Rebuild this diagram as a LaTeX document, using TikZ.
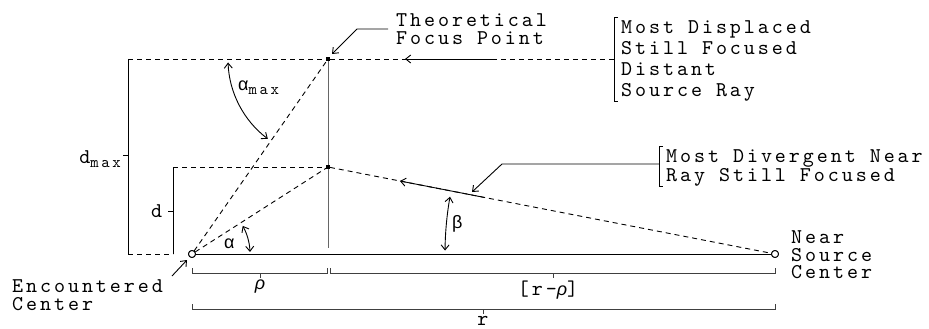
\documentclass[tikz,border=0pt]{standalone}
\usepackage{fontspec}
\setmainfont{Liberation Serif}
\newfontfamily\grkfam{Liberation Sans}
\newfontfamily\courfam[LetterSpace=14]{lmmono10-regular.otf}
\newfontfamily\subfam[LetterSpace=16]{lmmono10-regular.otf}
\newcommand\monoA{\courfam\fontsize{21pt}{21pt}\selectfont}
\newcommand\monoS{\subfam\fontsize{16pt}{16pt}\selectfont}
\newcommand\grkA{\grkfam\fontsize{18pt}{18pt}\selectfont}
\newcommand\mxsub{\raisebox{-4pt}{\monoS max}}
\usetikzlibrary{arrows.meta,calc}
\tikzset{
  ln/.style={line width=1pt},
  gln/.style={line width=1pt, black!75},
  dsh/.style={line width=0.9pt, dash pattern=on 5pt off 4pt},
  arr/.style={line width=0.9pt, -{Straight Barb[length=5pt,width=8pt]}},
  dimarr/.style={line width=0.9pt, {Straight Barb[length=5pt,width=8pt]}-{Straight Barb[length=5pt,width=8pt]}},
  circ/.style={circle, draw, line width=0.9pt, fill=white, inner sep=0pt, minimum size=7pt},
  dotn/.style={rectangle, fill=black, inner sep=0pt, minimum size=3.5pt},
  txt/.style={inner sep=0pt, anchor=base west, font=\monoA, text height=10pt, text depth=2pt},
}
\begin{document}
\begin{tikzpicture}[x=1pt,y=-1pt]
\useasboundingbox (0,0) rectangle (929,329);
\fill[white] (0,0) rectangle (929,329);

% key points
\node[circ] (E) at (192,254) {};
\node[circ] (N) at (775,254) {};
\node[dotn] (F1) at (328,59) {};
\node[dotn] (F2) at (328,167) {};
\coordinate (TL) at (128,59);
\coordinate (BL) at (128,254);
\coordinate (DB) at (173,254);
\coordinate (DT) at (173,167);
\coordinate (FB) at (328,248);
\coordinate (B1) at (614,59);

% vertical focus line
\draw[line width=1pt, black!60] (F1) -- (FB);

% dashed construction lines
\draw[dsh] (TL) -- (F1);
\draw[dsh] (F1) -- (B1);
\draw[dsh] (BL) -- (DB);
\draw[dsh] (DT) -- (F2);
\draw[dsh] (E) -- (F1);
\draw[dsh] (E) -- (F2);
\draw[dsh] (F2) -- (N);

% solid arrow segments on the rays
\draw[arr] (497,59) -- (405,59);
\draw[arr] ($(F2)!0.351!(N)$) -- ($(F2)!0.161!(N)$);

% axis
\draw[ln] (E) -- (N);

% d_max and d brackets
\draw[ln] (TL) -- (BL);
\draw[ln] (123,155) -- (128,155);
\draw[ln] (DB) -- (DT);
\draw[ln] (168,211) -- (173,211);

% re-draw nodes on top
\node[circ] at (E) {};
\node[circ] at (N) {};
\node[dotn] at (F1) {};
\node[dotn] at (F2) {};

% angle arcs
\draw[dimarr] ([shift={(178:100)}]F1) arc[start angle=178, end angle=127, radius=100];
\draw[dimarr] ([shift={(-2:58)}]E) arc[start angle=-2, end angle=-29, radius=58];
\draw[dimarr] ([shift={(180.6:330)}]N) arc[start angle=180.6, end angle=190, radius=330];

% angle labels
\node[inner sep=0pt, anchor=base west, font=\grkA] (amax) at (238,90) {α\mxsub};
\node[inner sep=0pt, anchor=base west, font=\grkA] (alab) at (224,248) {α};
\node[inner sep=0pt, anchor=base west, font=\grkA] (blab) at (452,228) {β};

% side labels
\node[inner sep=0pt, anchor=base east, font=\monoA] (dmax) at (121,163) {d\mxsub};
\node[txt] (dlab) at (151,217) {d};

% dimension brackets
\draw[gln] (192,268) -- (192,273) -- (327,273) -- (327,268);
\draw[gln] (260,273) -- (260,278);
\draw[gln] (330,268) -- (330,273) -- (775,273) -- (775,268);
\draw[gln] (553,273) -- (553,278);
\draw[gln] (192,304) -- (192,309) -- (775,309) -- (775,304);
\draw[gln] (483,309) -- (483,314);
\node[inner sep=0pt, anchor=base, font=\grkA] (rho) at (260,289) {\itshape ρ};
\node[inner sep=0pt, anchor=base, font=\monoA] (rmr) at (548,295) {[r-{\grkA\itshape ρ}]};
\node[inner sep=0pt, anchor=base, font=\monoA, text height=9pt, text depth=0pt] (rr) at (483,325) {r};

% Theoretical Focus Point
\node[txt] (tf1) at (396,27) {Theoretical};
\node[txt] (tf2) at (396,45) {Focus Point};
\coordinate (TFa) at (388,29);
\coordinate (TFb) at (357,29);
\coordinate (TFc) at (332,54);
\draw[arr] (TFa) -- (TFb) -- (TFc);

% Most Displaced block
\draw[ln] (618,18) -- (614,18) -- (614,101) -- (618,101);
\node[txt] (m1) at (621,34) {Most Displaced};
\node[txt] (m2) at (621,55) {Still Focused};
\node[txt] (m3) at (621,76) {Distant};
\node[txt] (m4) at (621,96) {Source Ray};

% Most Divergent block
\coordinate (B2) at (659,164);
\coordinate (MDb) at (502,164);
\coordinate (MDc) at (472,192);
\draw[ln] (663,146) -- (659,146) -- (659,186) -- (663,186);
\node[txt] (n1) at (666,162) {Most Divergent Near};
\node[txt] (n2) at (666,181) {Ray Still Focused};
\draw[arr] (B2) -- (MDb) -- (MDc);

% Near Source Center
\node[txt] (ns1) at (791,243) {Near};
\node[txt] (ns2) at (791,261) {Source};
\node[txt] (ns3) at (791,278) {Center};

% Encountered Center
\node[txt] (ec1) at (12,292) {Encountered};
\node[txt] (ec2) at (12,310) {Center};
\coordinate (ECa) at (172,276);
\coordinate (ECb) at (187,260);
\draw[arr] (ECa) -- (ECb);
\end{tikzpicture}
\end{document}
